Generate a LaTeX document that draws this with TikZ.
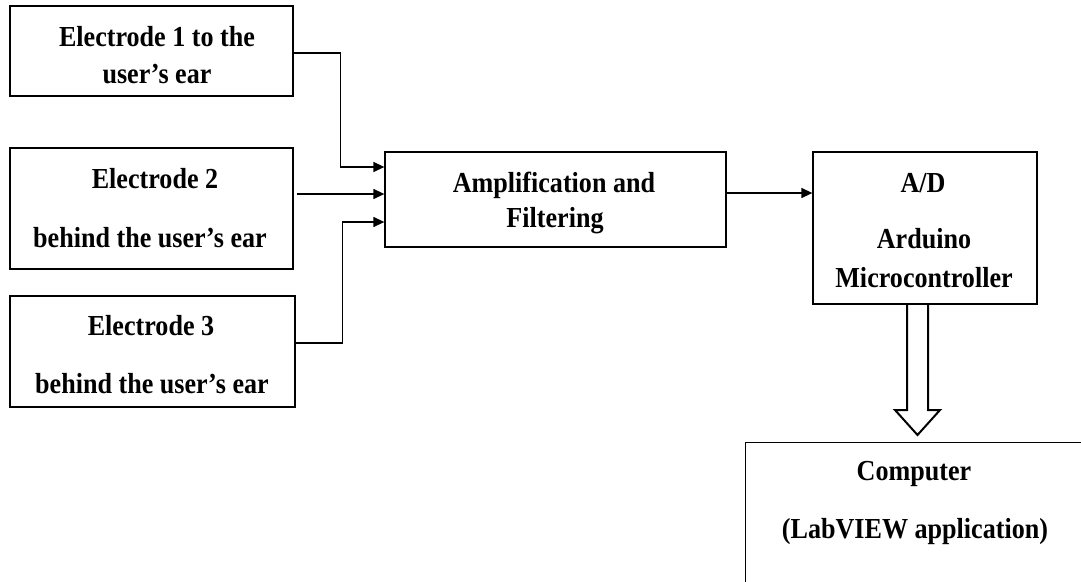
\documentclass[tikz,border=0pt]{standalone}
\usepackage{fontspec}
\setmainfont{Liberation Serif}[FakeStretch=0.9]
\usetikzlibrary{arrows.meta}
\begin{document}
\begin{tikzpicture}[x=1pt,y=-1pt,
  blk/.style={draw=black,line width=1.3pt,rectangle,inner sep=0pt},
  lbl/.style={anchor=base,inner sep=0pt,font=\fontsize{29}{31}\selectfont\bfseries},
  conn/.style={draw=black,line width=1.3pt,-{Triangle[length=11pt,width=10pt]}}]
\useasboundingbox (0,0) rectangle (1081,581);
\clip (0,0) rectangle (1081,581);
% boxes
\node[blk,minimum width=283pt,minimum height=90pt] (e1) at (151.5,51) {};
\node[blk,minimum width=283pt,minimum height=121pt] (e2) at (151.5,208.5) {};
\node[blk,minimum width=285pt,minimum height=111pt] (e3) at (152.5,351.5) {};
\node[blk,minimum width=341pt,minimum height=95pt] (amp) at (555.5,199.5) {};
\node[blk,minimum width=224pt,minimum height=152pt] (ad) at (925,228) {};
\node[blk,minimum width=400pt,minimum height=200pt,anchor=north west] (comp) at (745,442) {};
% labels
\node[lbl] (t1a) at (157,46) {Electrode 1 to the};
\node[lbl] (t1b) at (157,83) {user’s ear};
\node[lbl] (t2a) at (155,188) {Electrode 2};
\node[lbl] (t2b) at (150,247) {behind the user’s ear};
\node[lbl] (t3a) at (151,335) {Electrode 3};
\node[lbl] (t3b) at (152,393) {behind the user’s ear};
\node[lbl] (tamp1) at (554,192) {Amplification and};
\node[lbl] (tamp2) at (555,227) {Filtering};
\node[lbl] (tad1) at (923,192) {A/D};
\node[lbl] (tad2) at (924,248) {Arduino};
\node[lbl] (tad3) at (924,287) {Microcontroller};
\node[lbl] (tc1) at (914,480) {Computer};
\node[lbl] (tc2) at (915,538) {(LabVIEW application)};
% connector levels
\coordinate (y1) at (0,167);
\coordinate (y2) at (0,194);
\coordinate (y3) at (0,222);
\coordinate (y1s) at (0,53);
\coordinate (y3s) at (0,343);
\coordinate (y4) at (0,193);
\draw[conn] (e1.east |- y1s) -- ++(47,0) |- (amp.west |- y1);
\draw[conn] ([xshift=3pt]e2.east |- y2) -- (amp.west |- y2);
\draw[conn] (e3.east |- y3s) -- ++(47,0) |- (amp.west |- y3);
\draw[conn] (amp.east |- y4) -- (ad.west |- y4);
% hollow block arrow
\draw[line width=2pt,line join=miter] (907,304) -- (907,410) -- (895,410) -- (917.5,435) -- (940,410) -- (928,410) -- (928,304);
\end{tikzpicture}
\end{document}
